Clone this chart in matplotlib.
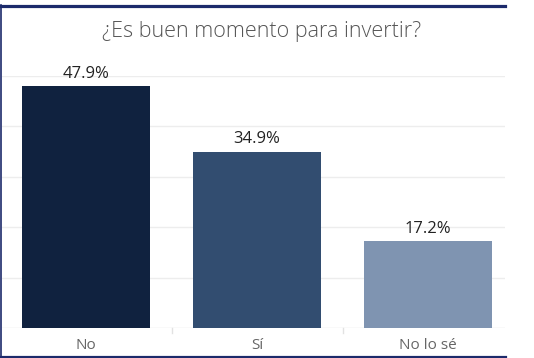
import matplotlib
matplotlib.use("Agg")
import matplotlib.pyplot as plt
from matplotlib.lines import Line2D

categories = ["No", "Sí", "No lo sé"]
values = [47.9, 34.9, 17.2]
bar_colors = ["#10223f", "#324d70", "#7f94b1"]
title = "¿Es buen momento para invertir?"

W, H = 534, 358
plt.rcParams["font.family"] = ["Open Sans", "DejaVu Sans"]

fig = plt.figure(figsize=(W / 100, H / 100), dpi=100)
fig.patch.set_facecolor("white")

# plot area in pixels: x 2..505, y 75.6 (50%) .. 328 (0%)
ax = fig.add_axes([2 / W, 1 - 328 / H, (505 - 2) / W, (328 - 75.6) / H])
ax.set_facecolor("white")

band = 171
x = list(range(len(categories)))
ax.bar(x, values, width=128 / band, color=bar_colors, zorder=3)

ax.set_xlim(-84 / band, 419 / band)
ax.set_ylim(0, 50)
ax.set_yticks([10, 20, 30, 40, 50])
ax.yaxis.grid(True, color="#ededed", lw=1, zorder=0)
ax.tick_params(left=False, labelleft=False, bottom=False, labelbottom=False)
for s in ax.spines.values():
    s.set_visible(False)
ax.axhline(0, color="#e2e2e2", lw=1, zorder=1)

# category separators under the baseline
for b in [0.5, 1.5]:
    ax.plot([b, b], [0, -0.9], color="#e2e2e2", lw=1, clip_on=False)

for xi, v, lab in zip(x, values, categories):
    ax.annotate(f"{v}%", (xi, v), xytext=(0, 9), textcoords="offset points",
                ha="center", va="center", fontsize=12, color="#222222")
    ax.text(xi, -3.4, lab, ha="center", va="center", fontsize=11,
            color="#666666")

fig.text(262 / W, 1 - 32 / H, title, ha="center", va="center",
         fontsize=15.5, fontweight="light", color="#555555")

# navy frame lines
navy = "#1c2a6b"
fig.add_artist(Line2D([0, 505 / W], [1 - 5.5 / H] * 2, color=navy, lw=2.3))
fig.add_artist(Line2D([0, 505 / W], [1 - 356.5 / H] * 2, color=navy, lw=2.3))
fig.add_artist(Line2D([0.6 / W] * 2, [1 - 5 / H, 1 - 357 / H], color=navy, lw=1.2))

fig.savefig("out.png", dpi=100, facecolor="white")
